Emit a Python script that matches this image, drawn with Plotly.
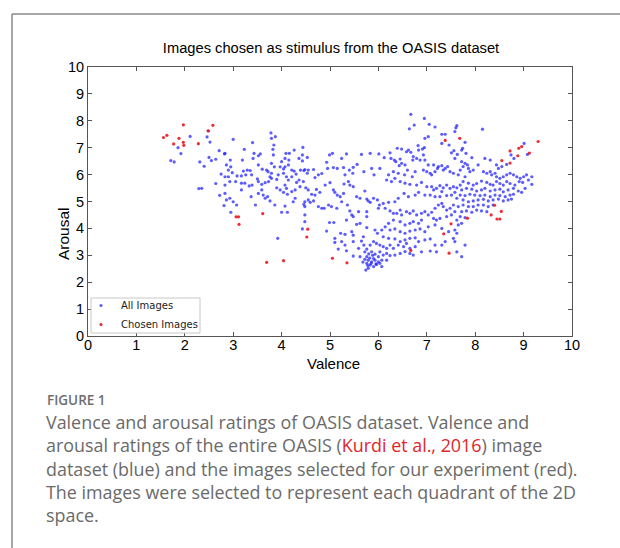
import plotly.graph_objects as go

# ---------------- data: all OASIS images (blue) ----------------
valence_all = (
    [2.11,1.86,1.92,1.71,1.78,2.31,2.40,2.49,2.46,2.52,2.71,2.82,2.50,2.55,2.64,2.75,2.64,2.29,2.35,2.72,2.81]
    + [3.00,3.40,3.23,2.83,2.94,2.86,2.95,3.19,3.43,3.41]
    + [3.56,3.52,3.78,3.87,3.79,3.84,3.82,3.83,4.09,4.16]
    + [4.07,4.00,4.15,4.26,4.36,4.43,4.43,3.79,3.85,3.52]
    + [3.60,3.69,3.72,3.79,3.97,4.07,4.04,4.14,4.21,4.26]
    + [4.30,4.39,4.46,2.90,2.98,3.08,3.17,3.26,3.21,3.29]
    + [3.35,3.38,2.83,2.90,2.93,2.83,3.05,3.17,3.24,3.33]
    + [3.39,3.50,3.52,3.59,3.66,3.73,3.76,3.79,3.90,3.93]
    + [4.04,4.10,4.14,4.21,4.31,4.36,4.45,3.90,3.97,4.07]
    + [4.10,4.04,4.12,4.21,4.28,4.38,3.59,3.52,3.62,3.66]
    + [3.71,3.76,3.86,4.07,4.28,4.24,4.46,4.48,2.83,2.86]
    + [2.93,3.00,3.07,3.37,3.46,3.17,2.95,4.00,4.12,4.48]
    + [4.43,3.92,4.48]
    + [4.44,4.53,4.48,4.55,4.66,4.53,4.69,4.76,4.83,4.93]
    + [4.99,5.05,4.95,5.07,5.15,5.24,5.34,5.28,5.31,5.40]
    + [5.48,5.47,5.56,5.65,5.70,5.83,5.86,5.91,6.01,6.03]
    + [4.50,4.55,4.62,4.69,4.72,4.79,4.90,5.00,5.07,5.10]
    + [5.15,5.21,5.28,5.29,5.38,5.41,5.48,5.55,5.62,5.72]
    + [5.76,5.79,5.83,5.90,5.98,6.02,4.48,4.55,4.59,4.66]
    + [4.76,4.83,4.88,4.97,5.03,5.14,5.24,5.36,5.41,5.45]
    + [5.48,5.59,5.76,6.00,4.93,4.99,5.08,5.34,5.55,5.76]
    + [5.62,5.76,5.93,5.98,5.10,5.22,5.31,5.45,5.48,5.69]
    + [5.10,5.24,5.31,5.48,5.65,5.70,5.34,5.59,5.76,5.83]
    + [5.90,5.96,6.03,5.86,5.93,6.00,5.76,5.79,5.86,5.93]
    + [6.00,5.83,5.90,5.96,6.03,5.76,5.72,5.79,5.17,5.48]
    + [5.62,5.72,5.78,5.82,5.88,5.95,5.74,5.80,5.68,5.85]
    + [5.90]
    + [6.67,6.95,6.74,7.05,6.64,7.17,7.03,6.96,7.31,7.38]
    + [7.31,7.46,7.51,7.56,6.82,6.83,6.91,6.95,6.62,6.67]
    + [6.58,6.39,6.48,6.24,6.12,6.26,6.33,6.36,6.45,6.48]
    + [6.55,6.43,6.60,6.72,6.71,6.79,6.86,6.93,6.96,7.03]
    + [7.14,7.22,7.24,7.31,7.34,7.38,7.43,7.48,7.55,7.00]
    + [7.07,7.10,7.17,6.93,6.76,6.70,6.54,6.41,6.31,6.21]
    + [6.17,6.27,6.34,6.45,6.55,6.65,6.79,6.89,7.00,7.10]
    + [7.14,7.20,7.27,7.34,7.41,7.48,7.55,7.58,7.51,7.41]
    + [7.31,7.27,7.17,7.07,6.96,6.83,6.76,6.62,6.53,6.41]
    + [6.34,6.21,6.10,6.14,6.24,6.31,6.38,6.45,6.48,6.58]
    + [6.65,6.72,6.79,6.89,6.96,7.03,7.10,7.17,7.24,7.31]
    + [7.34,7.41,7.48,7.55,7.58,7.51,7.41,7.27,7.20,7.14]
    + [6.89,6.83,6.72,6.65,6.55,6.45,6.31,6.21,6.14,6.07]
    + [6.24,6.34,6.45,6.55,6.65,6.76,6.86,6.96,7.03,7.17]
    + [7.31,7.45,6.10,6.21,6.34,6.45,6.55,6.65,6.76,6.83]
    + [6.96,7.07,7.17,7.31,7.38,7.55,6.10,6.17,6.24,6.31]
    + [6.41,6.52,6.58,6.65,6.76,6.55,6.45,6.34,6.24,6.17]
    + [6.10,6.03,6.07,6.17,6.65,6.72,6.89,7.07,7.20,6.07]
    + [7.58,7.60,7.62,8.15,7.79,7.74,7.72,7.63,7.81,7.93]
    + [7.58,7.72,7.79,7.84,7.75,7.86,7.69,7.65,7.79,7.89]
    + [7.96,8.06,8.20,8.31,8.44,8.48,8.55,8.65,8.74,8.80]
    + [9.01,9.08,8.17,8.24,8.31,8.34,8.41,8.44,8.51,8.58]
    + [8.65,8.72,8.79,8.86,8.93,9.00,9.06,9.17,8.91,8.98]
    + [9.17,9.10,8.82,8.72,8.65,8.58,8.51,8.44,8.37,8.31]
    + [8.24,8.13,8.03,7.96,7.86,7.75,7.69,7.62,7.72,7.82]
    + [7.93,8.03,8.13,8.20,8.31,8.41,8.51,8.58,8.68,8.79]
    + [8.89,8.96,9.03,8.79,8.72,8.62,8.51,8.41,8.31,8.20]
    + [8.10,7.99,7.89,7.79,7.69,7.62,7.75,7.86,7.96,8.06]
    + [8.17,8.27,8.37,8.48,8.58,8.68,8.75,8.37,8.27,8.17]
    + [8.06,7.96,7.86,7.75,7.65,7.72,7.82,7.93,8.03,8.13]
    + [8.24,7.69,7.79,7.62,7.72,7.65,7.58,7.62,7.58,7.79]
    + [7.62,7.72]
)
arousal_all = (
    [7.42,7.00,6.78,6.52,6.47,6.47,6.31,7.62,7.40,7.21,6.89,6.77,6.64,6.52,6.57,6.02,5.67,5.48,5.49,5.23,4.85]
    + [7.31,7.19,6.94,6.79,6.54,6.36,6.29,6.54,6.79,6.60]
    + [6.77,6.70,7.55,7.41,7.35,7.10,6.94,6.73,6.79,6.79]
    + [6.60,6.48,6.54,6.91,6.60,6.73,6.51,6.42,6.29,6.36]
    + [6.20,6.17,6.11,6.05,6.29,6.29,6.21,6.36,6.17,6.13]
    + [6.02,6.17,6.15,6.17,6.07,5.95,5.95,5.99,6.13,6.17]
    + [6.15,5.99,5.92,5.92,5.74,5.61,5.74,5.68,5.68,5.58]
    + [5.61,5.84,5.74,5.64,5.70,5.74,5.92,5.86,5.82,5.99]
    + [6.05,5.92,5.80,5.92,5.71,5.80,5.74,5.51,5.43,5.61]
    + [5.49,5.34,5.27,5.37,5.43,5.55,5.43,5.30,5.24,5.12]
    + [5.18,5.02,4.87,4.83,5.12,4.99,4.89,4.81,5.30,5.06]
    + [5.12,4.99,4.87,5.18,4.87,5.43,4.60,4.60,4.60,4.50]
    + [3.98,3.63,4.25]
    + [7.01,6.64,6.19,6.17,6.19,6.05,5.89,5.99,6.04,6.46]
    + [6.73,6.79,6.23,6.26,6.23,6.60,6.77,6.26,5.99,6.17]
    + [6.27,6.05,6.38,6.75,6.11,6.79,6.23,5.99,6.77,6.23]
    + [5.51,5.43,5.27,5.24,5.45,5.34,5.61,5.70,5.43,5.34]
    + [5.24,5.18,5.30,5.65,5.74,5.61,5.55,5.18,5.12,5.39]
    + [5.09,5.02,4.97,5.12,5.06,4.87,4.99,5.06,4.97,5.02]
    + [4.81,4.75,4.75,4.87,4.81,4.75,4.99,4.87,4.65,4.50]
    + [4.44,4.62,4.62,4.75,3.90,4.22,4.22,4.31,4.15,4.44]
    + [4.19,4.03,3.94,3.82,3.63,3.82,3.78,3.88,3.75,3.69]
    + [3.48,3.51,3.38,3.51,3.53,3.38,3.17,3.26,3.23,3.38]
    + [3.51,3.44,3.38,3.13,3.04,2.95,2.95,2.82,2.76,2.82]
    + [2.76,2.64,2.58,2.66,2.70,2.70,3.13,2.52,3.23,2.97]
    + [2.95,2.85,2.62,2.90,3.00,2.68,2.45,3.05,2.75,2.70]
    + [2.88]
    + [8.24,8.09,7.84,7.87,7.70,7.77,7.41,7.35,7.50,7.50]
    + [7.16,7.10,6.81,6.89,7.08,6.91,6.95,7.00,6.91,6.83]
    + [6.85,6.98,6.95,6.81,6.63,6.60,6.54,6.48,6.58,6.42]
    + [6.36,6.33,6.17,6.67,6.54,6.60,6.54,6.73,6.54,6.36]
    + [6.36,6.23,6.30,6.33,6.17,6.23,6.30,6.11,6.05,6.11]
    + [6.05,5.99,6.11,6.17,6.11,5.92,5.99,6.05,6.11,5.99]
    + [5.80,5.74,5.86,5.74,5.68,5.64,5.61,5.71,5.55,5.55]
    + [5.43,5.49,5.59,5.51,5.61,5.49,5.55,5.34,5.24,5.22]
    + [5.37,5.18,5.18,5.24,5.24,5.34,5.24,5.18,5.30,5.12]
    + [4.99,4.97,4.93,4.75,4.65,4.56,4.56,4.68,4.50,4.62]
    + [4.56,4.65,4.50,4.56,4.62,4.50,4.60,4.75,4.87,4.93]
    + [4.81,4.68,4.75,4.87,4.62,4.50,4.44,4.37,4.31,4.37]
    + [4.31,4.19,4.25,4.19,4.13,4.25,4.31,4.19,4.06,3.94]
    + [3.94,3.98,3.88,3.82,3.90,3.94,3.98,3.88,4.06,4.13]
    + [4.00,3.88,3.69,3.63,3.61,3.51,3.57,3.63,3.65,3.51]
    + [3.57,3.61,3.38,3.38,3.51,3.63,3.32,3.26,3.38,3.26]
    + [3.38,3.32,3.44,3.26,3.32,3.14,3.07,3.01,2.99,3.07]
    + [3.01,3.13,2.82,2.82,3.07,3.01,3.13,3.16,3.13,2.58]
    + [7.60,7.74,7.82,7.69,7.20,6.98,6.91,6.75,6.79,6.63]
    + [6.60,6.48,6.42,6.36,6.30,6.23,6.17,5.99,5.92,6.11]
    + [6.17,6.36,6.60,6.54,6.36,6.23,6.30,6.38,6.73,6.60]
    + [7.16,6.75,6.11,6.05,6.11,5.99,6.05,5.92,5.86,5.92]
    + [5.99,6.05,5.99,5.92,5.86,5.92,5.99,5.92,5.74,5.71]
    + [5.64,5.80,5.61,5.67,5.74,5.61,5.67,5.74,5.61,5.64]
    + [5.71,5.76,5.67,5.61,5.68,5.74,5.61,5.51,5.43,5.49]
    + [5.46,5.39,5.43,5.49,5.39,5.43,5.46,5.36,5.43,5.49]
    + [5.39,5.34,5.49,5.27,5.24,5.18,5.22,5.24,5.18,5.24]
    + [5.22,5.24,5.27,5.22,5.24,5.12,5.06,4.99,5.02,5.06]
    + [5.08,5.02,5.06,5.09,5.02,5.06,5.09,4.87,4.81,4.87]
    + [4.87,4.81,4.81,4.87,4.81,4.62,4.65,4.60,4.68,4.65]
    + [4.62,4.44,4.40,4.31,4.19,4.13,3.94,3.82,3.51,3.38]
    + [3.13,2.95]
)

# ---------------- data: images chosen as stimulus (red) ----------------
valence_chosen = [1.56,1.63,1.77,1.88,1.97,1.97,1.98,2.28,2.48,2.58,
                  3.06,3.11,3.12,3.61,3.69,4.04,4.54,4.52,5.05,5.35,
                  6.67,7.35,7.46,7.50,7.38,7.68,7.84,8.33,8.40,8.45,
                  8.51,8.54,8.55,8.72,8.72,8.88,8.90,8.96,9.12,9.30]
arousal_chosen = [7.38,7.46,7.14,7.35,7.85,7.20,7.09,7.15,7.63,7.83,
                  4.43,4.43,4.15,4.55,2.74,2.80,3.97,3.68,2.89,2.72,
                  3.18,3.80,3.08,4.17,7.27,7.35,4.38,4.50,4.86,4.35,
                  4.35,4.63,6.52,6.43,6.88,6.70,6.98,7.04,6.80,7.23]

axis_ticks = list(range(0, 11))

title_text = "Images chosen as stimulus from the OASIS dataset"
x_title = "Valence"
y_title = "Arousal"
caption_head = "FIGURE 1"
caption_lines = [
    "Valence and arousal ratings of OASIS dataset. Valence and",
    "arousal ratings of the entire OASIS (<span style='color:#e0262b'>Kurdi et al., 2016</span>) image",
    "dataset (blue) and the images selected for our experiment (red).",
    "The images were selected to represent each quadrant of the 2D",
    "space.",
]

# ---------------- figure ----------------
W, H = 620, 548
L, R, T, B = 88, 48, 67, 212
pw, ph = W - L - R, H - T - B

def px2paper_x(px):
    return (px - L) / pw

def px2paper_y(py):
    return (H - B - py) / ph

fig = go.Figure()
fig.add_trace(go.Scatter(
    x=valence_all, y=arousal_all, mode="markers", name="All Images",
    marker=dict(size=3.2, color="rgba(30,30,255,0.72)", line=dict(width=0)),
))
fig.add_trace(go.Scatter(
    x=valence_chosen, y=arousal_chosen, mode="markers", name="Chosen Images",
    marker=dict(size=3.2, color="rgba(240,20,30,0.9)", line=dict(width=0)),
))

axis_common = dict(
    range=[0, 10], tickvals=axis_ticks, ticktext=[str(t) for t in axis_ticks],
    showgrid=False, zeroline=False, showline=True, linecolor="#555", linewidth=1,
    mirror="ticks", ticks="inside", ticklen=4, tickcolor="#555",
    tickfont=dict(family="Liberation Sans", size=14.5, color="black"),
)

fig.update_layout(
    width=W, height=H,
    margin=dict(l=L, r=R, t=T, b=B),
    paper_bgcolor="white", plot_bgcolor="white",
    title=dict(text=title_text, x=331 / W, xanchor="center",
               y=1 - 48 / H, yanchor="middle", yref="container",
               font=dict(family="Liberation Sans", size=14.7, color="black")),
    xaxis=dict(**axis_common, ticklabelstandoff=-4),
    yaxis=dict(**axis_common),
    legend=dict(x=px2paper_x(81), y=px2paper_y(315), xanchor="left", yanchor="middle",
                bgcolor="rgba(0,0,0,0)", borderwidth=0,
                font=dict(family="DejaVu Sans", size=10, color="#222"),
                itemwidth=30, tracegroupgap=0),
    showlegend=True,
)

# axis titles
fig.add_annotation(text=x_title, xref="paper", yref="paper",
                   x=px2paper_x(333), y=px2paper_y(363), xanchor="center", yanchor="middle",
                   showarrow=False, font=dict(family="Liberation Sans", size=15, color="black"))
fig.add_annotation(text=y_title, xref="paper", yref="paper", textangle=-90,
                   x=px2paper_x(63), y=px2paper_y(234), xanchor="center", yanchor="middle",
                   showarrow=False, font=dict(family="Liberation Sans", size=15.5, color="black"))

# legend box
fig.add_shape(type="rect", xref="paper", yref="paper", layer="above",
              x0=px2paper_x(91), x1=px2paper_x(200), y0=px2paper_y(333), y1=px2paper_y(298),
              line=dict(color="#c8c8c8", width=1), fillcolor="white")

# outer figure frame (top and left edges)
frame_col = "#8a8a8a"
fig.add_shape(type="line", xref="paper", yref="paper",
              x0=px2paper_x(12), y0=px2paper_y(14), x1=px2paper_x(W + 5), y1=px2paper_y(14),
              line=dict(color=frame_col, width=1.5))
fig.add_shape(type="line", xref="paper", yref="paper",
              x0=px2paper_x(12), y0=px2paper_y(14), x1=px2paper_x(12), y1=px2paper_y(H + 5),
              line=dict(color=frame_col, width=1.5))

# caption
fig.add_annotation(text=caption_head, xref="paper", yref="paper",
                   x=px2paper_x(45), y=px2paper_y(400), xanchor="left", yanchor="middle",
                   showarrow=False, font=dict(family="Open Sans", size=13.5, color="#6e6e6e", weight=600))
line_y = [422, 445, 469, 492, 515]
for txt, yy in zip(caption_lines, line_y):
    fig.add_annotation(text=txt, xref="paper", yref="paper",
                       x=px2paper_x(44), y=px2paper_y(yy), xanchor="left", yanchor="middle",
                       showarrow=False, font=dict(family="Open Sans", size=17.9, color="#6a6a6a"))

fig.write_html("out.html", config={"displayModeBar": False},
               post_script="document.body.style.margin='0px';")
